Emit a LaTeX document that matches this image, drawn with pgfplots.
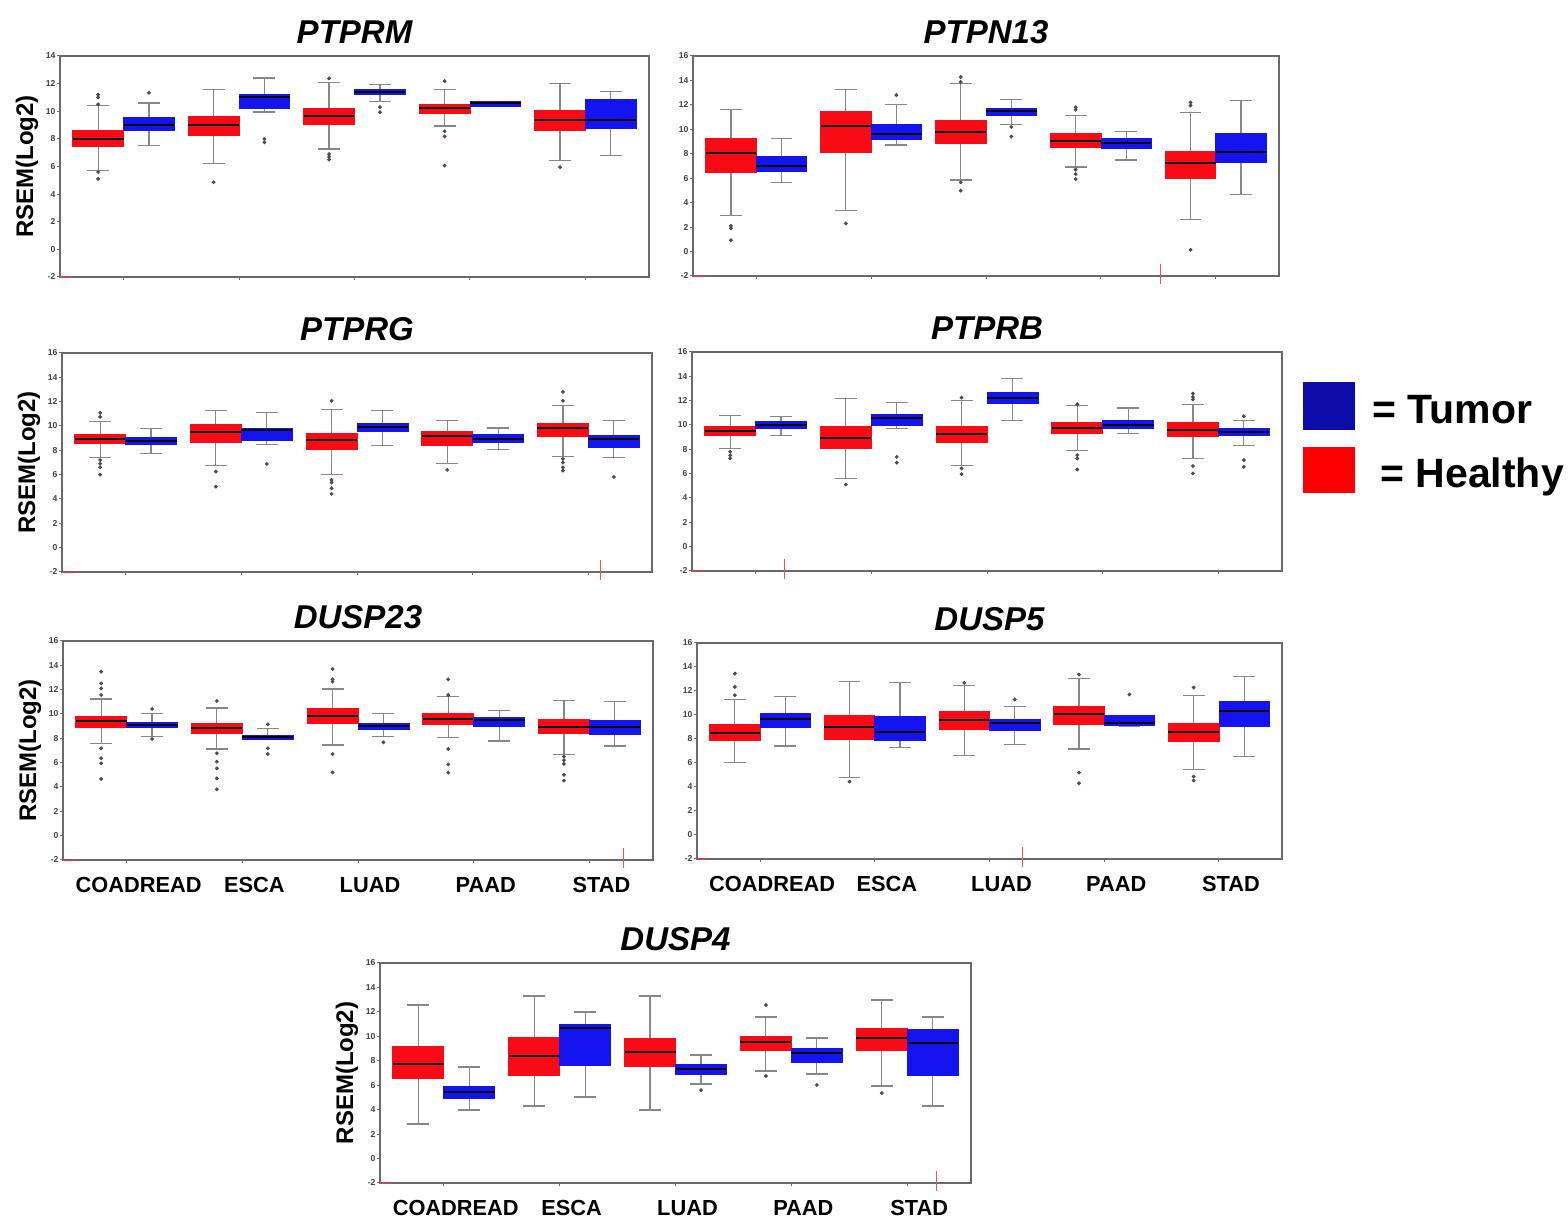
\documentclass[border=0pt]{standalone}
\usepackage{fontspec}
\setmainfont{Liberation Sans}
\usepackage{pgfplots}
\pgfplotsset{compat=1.18}
\usepgfplotslibrary{statistics}
\definecolor{hred}{RGB}{250,10,20}
\definecolor{tblue}{RGB}{20,20,240}
\definecolor{tedge}{RGB}{10,10,200}
\definecolor{lblue}{RGB}{12,12,168}
\definecolor{axgray}{RGB}{105,105,105}
\definecolor{wgray}{RGB}{135,135,135}
\pgfplotsset{
 panel/.style={scale only axis, anchor=south west, xmin=-0.55, xmax=4.55, ymin=-2, ymax=16,
  ytick={-2,0,...,16}, xtick={0,1,2,3,4}, xticklabels={}, tick pos=left, tick align=outside,
  major tick length=1.5pt, axis line style={draw=axgray,line width=1pt},
  every tick/.style={draw=axgray,line width=0.5pt},
  /pgf/number format/assume math mode=true,
  yticklabel style={font=\bfseries\fontsize{4.3}{5}\selectfont, text=black!75, inner sep=0.6pt},
  every axis title/.style={at={(0.5,1)}, anchor=base, yshift=6pt, font=\bfseries\itshape\fontsize{16.5}{18}\selectfont},
  boxplot/draw direction=y,
  clip=false},
 ylab/.style={ylabel={RSEM(Log2)}, every axis y label/.style={at={(axis description cs:-0.056,0.5)}, rotate=90, anchor=center, font=\bfseries\fontsize{12}{14}\selectfont}},
 xlab/.style={xticklabels={COADREAD,ESCA,LUAD,PAAD,STAD}, xticklabel style={font=\bfseries\fontsize{10.9}{12}\selectfont, anchor=north, inner sep=0pt, yshift=-7pt, xshift=6pt}},
}
% #1 position, #2 colour, #3 lower whisker, #4 lower quartile, #5 median, #6 upper quartile, #7 upper whisker, #8 outliers
\newcommand\bx[8]{\addplot[draw=wgray, mark=*, mark size=0.75pt, mark options={draw=black!70,fill=black!70},
  boxplot prepared={draw direction=y, draw position=#1, lower whisker=#3, lower quartile=#4, median=#5, upper quartile=#6, upper whisker=#7,
  box extend=0.44, whisker extend=0.19,
  every box/.style={draw=#2,fill=#2,line width=0.4pt},
  every median/.style={draw=black,line width=1pt},
  every whisker/.style={draw=wgray,line width=0.6pt}}] coordinates {#8};}
% small red marks of the original figure
\newcommand\corner{\draw[red!80, line width=0.4pt] (axis description cs:0,0) -- (axis description cs:0.02,0);}
\newcommand\redmark[1]{\draw[red!70, line width=0.4pt] (axis description cs:#1,-0.035) -- (axis description cs:#1,0.055);}
\begin{document}
\begin{tikzpicture}
\path[use as bounding box] (0pt,0pt) rectangle (784pt,609.5pt);
% PTPRM
\begin{axis}[panel, at={(30pt,471pt)}, width=294.5pt, height=110.5pt, ymax=14, ytick={-2,0,...,14}, title={PTPRM}, ylab]
\bx{-0.22}{hred}{5.71}{7.45}{8.01}{8.62}{10.41}{(0,11.2)(0,11.0)(0,10.5)(0,5.6)(0,5.1)}
\bx{0.22}{tblue}{7.5}{8.59}{9.03}{9.52}{10.6}{(0,11.33)}
\bx{0.78}{hred}{6.22}{8.25}{8.98}{9.66}{11.55}{(0,4.86)}
\bx{1.22}{tblue}{9.95}{10.17}{11.02}{11.21}{12.4}{(0,8.0)(0,7.75)}
\bx{1.78}{hred}{7.26}{9.03}{9.66}{10.19}{12.06}{(0,12.38)(0,6.9)(0,6.7)(0,6.5)}
\bx{2.22}{tblue}{10.68}{11.19}{11.41}{11.58}{11.94}{(0,10.3)(0,9.93)}
\bx{2.78}{hred}{8.93}{9.83}{10.22}{10.53}{11.58}{(0,12.18)(0,8.55)(0,8.18)(0,6.07)}
\bx{3.22}{tblue}{10.33}{10.36}{10.56}{10.70}{10.72}{}
\bx{3.78}{hred}{6.41}{8.64}{9.35}{10.07}{11.99}{(0,5.95)}
\bx{4.22}{tblue}{6.82}{8.76}{9.39}{10.87}{11.43}{}
\corner
\end{axis}
% PTPN13
\begin{axis}[panel, at={(346.5pt,471.5pt)}, width=293pt, height=110pt, title={PTPN13}]
\bx{-0.22}{hred}{2.98}{6.48}{8.1}{9.22}{11.65}{(0,2.1)(0,1.9)(0,0.93)}
\bx{0.22}{tblue}{5.66}{6.56}{7.03}{7.82}{9.22}{}
\bx{0.78}{hred}{3.36}{8.1}{10.28}{11.43}{13.26}{(0,2.3)}
\bx{1.22}{tblue}{8.72}{9.19}{9.63}{10.39}{12.06}{(0,12.8)}
\bx{1.78}{hred}{5.85}{8.81}{9.79}{10.72}{13.73}{(0,14.28)(0,13.87)(0,5.66)(0,4.98)}
\bx{2.22}{tblue}{10.37}{11.13}{11.46}{11.73}{12.44}{(0,10.2)(0,9.41)}
\bx{2.78}{hred}{6.92}{8.53}{9.08}{9.65}{11.16}{(0,11.8)(0,11.6)(0,6.7)(0,6.34)(0,5.93)}
\bx{3.22}{tblue}{7.49}{8.4}{8.86}{9.27}{9.82}{}
\bx{3.78}{hred}{2.6}{6.02}{7.22}{8.23}{11.35}{(0,12.2)(0,11.95)(0,0.14)}
\bx{4.22}{tblue}{4.65}{7.3}{8.12}{9.68}{12.39}{}
\corner\redmark{0.797}
\end{axis}
% PTPRG
\begin{axis}[panel, at={(31pt,323.5pt)}, width=295pt, height=109.5pt, title={PTPRG}, ylab]
\bx{-0.22}{hred}{7.42}{8.57}{8.95}{9.31}{10.4}{(0,11.08)(0,10.75)(0,7.2)(0,6.9)(0,6.6)(0,6.0)}
\bx{0.22}{tblue}{7.75}{8.52}{8.79}{9.03}{9.77}{}
\bx{0.78}{hred}{6.77}{8.68}{9.47}{10.1}{11.25}{(0,6.25)(0,5.02)}
\bx{1.22}{tblue}{8.46}{8.84}{9.66}{9.8}{11.11}{(0,6.88)}
\bx{1.78}{hred}{5.98}{8.08}{8.84}{9.39}{11.36}{(0,12.07)(0,5.57)(0,5.35)(0,4.88)(0,4.42)}
\bx{2.22}{tblue}{8.41}{9.53}{9.88}{10.21}{11.25}{}
\bx{2.78}{hred}{6.93}{8.43}{9.14}{9.58}{10.48}{(0,6.39)}
\bx{3.22}{tblue}{8.05}{8.65}{8.95}{9.28}{9.83}{}
\bx{3.78}{hred}{7.48}{9.17}{9.8}{10.21}{11.66}{(0,12.8)(0,12.07)(0,7.3)(0,7.0)(0,6.6)(0,6.33)}
\bx{4.22}{tblue}{7.4}{8.27}{8.93}{9.23}{10.45}{(0,5.81)}
\corner\redmark{0.912}
\end{axis}
% PTPRB
\begin{axis}[panel, at={(346pt,324pt)}, width=295pt, height=109.5pt, title={PTPRB}]
\bx{-0.22}{hred}{8.04}{9.16}{9.54}{9.9}{10.8}{(0,7.8)(0,7.5)(0,7.25)}
\bx{0.22}{tblue}{9.11}{9.74}{10.01}{10.28}{10.69}{}
\bx{0.78}{hred}{5.58}{8.04}{8.97}{9.85}{12.17}{(0,5.11)}
\bx{1.22}{tblue}{9.74}{9.96}{10.58}{10.83}{11.84}{(0,7.38)(0,6.9)}
\bx{1.78}{hred}{6.65}{8.56}{9.24}{9.9}{11.98}{(0,12.25)(0,6.43)(0,5.96)}
\bx{2.22}{tblue}{10.34}{11.76}{12.25}{12.66}{13.81}{}
\bx{2.78}{hred}{7.93}{9.27}{9.74}{10.2}{11.62}{(0,11.7)(0,7.52)(0,7.25)(0,6.34)}
\bx{3.22}{tblue}{9.3}{9.71}{10.01}{10.39}{11.4}{}
\bx{3.78}{hred}{7.27}{9.05}{9.57}{10.2}{11.7}{(0,12.58)(0,12.3)(0,12.1)(0,6.62)(0,6.02)}
\bx{4.22}{tblue}{8.34}{9.11}{9.44}{9.71}{10.34}{(0,10.72)(0,7.11)(0,6.56)}
\corner\redmark{0.156}
\end{axis}
% DUSP23
\begin{axis}[panel, at={(31.5pt,179.5pt)}, width=295pt, height=109.5pt, title={DUSP23}, ylab, xlab]
\bx{-0.22}{hred}{7.59}{8.93}{9.45}{9.84}{11.23}{(0,13.48)(0,12.52)(0,12.1)(0,11.56)(0,7.18)(0,6.36)(0,5.95)(0,4.66)}
\bx{0.22}{tblue}{8.14}{8.93}{9.12}{9.32}{10.05}{(0,10.41)(0,7.95)}
\bx{0.78}{hred}{7.12}{8.41}{8.82}{9.23}{10.49}{(0,11.07)(0,6.77)(0,6.08)(0,5.53)(0,4.71)(0,3.81)}
\bx{1.22}{tblue}{7.95}{7.95}{8.08}{8.27}{8.79}{(0,9.15)(0,7.18)(0,6.71)}
\bx{1.78}{hred}{7.45}{9.21}{9.86}{10.44}{12.05}{(0,13.7)(0,12.85)(0,12.66)(0,6.71)(0,5.2)}
\bx{2.22}{tblue}{8.14}{8.74}{8.99}{9.26}{10.05}{(0,7.67)}
\bx{2.78}{hred}{8.05}{9.12}{9.56}{10.03}{11.42}{(0,12.85)(0,11.56)(0,7.12)(0,5.86)(0,5.18)}
\bx{3.22}{tblue}{7.78}{8.96}{9.51}{9.75}{10.27}{}
\bx{3.78}{hred}{6.68}{8.41}{8.96}{9.56}{11.1}{(0,6.5)(0,6.2)(0,5.9)(0,5.0)(0,4.52)}
\bx{4.22}{tblue}{7.37}{8.33}{8.93}{9.51}{11.01}{}
\corner\redmark{0.949}
\end{axis}
% DUSP5
\begin{axis}[panel, at={(348.5pt,180pt)}, width=292.5pt, height=108pt, title={DUSP5}, xlab]
\bx{-0.22}{hred}{6.06}{7.86}{8.47}{9.19}{11.29}{(0,13.45)(0,12.34)(0,11.65)}
\bx{0.22}{tblue}{7.42}{8.97}{9.63}{10.1}{11.57}{}
\bx{0.78}{hred}{4.81}{8.0}{9.02}{9.94}{12.76}{(0,4.45)}
\bx{1.22}{tblue}{7.3}{7.91}{8.55}{9.91}{12.68}{}
\bx{1.78}{hred}{6.61}{8.83}{9.58}{10.27}{12.48}{(0,12.68)}
\bx{2.22}{tblue}{7.55}{8.74}{9.3}{9.66}{10.68}{(0,11.29)}
\bx{2.78}{hred}{7.17}{9.24}{10.07}{10.74}{13.04}{(0,13.37)(0,5.2)(0,4.31)}
\bx{3.22}{tblue}{9.02}{9.1}{9.33}{9.94}{9.94}{(0,11.71)}
\bx{3.78}{hred}{5.48}{7.78}{8.55}{9.27}{11.62}{(0,12.29)(0,4.87)(0,4.54)}
\bx{4.22}{tblue}{6.56}{9.02}{10.32}{11.13}{13.2}{}
\corner\redmark{0.556}
\end{axis}
% DUSP4
\begin{axis}[panel, at={(190pt,18pt)}, width=295.5pt, height=110pt, title={DUSP4}, ylab, xlab]
\bx{-0.22}{hred}{2.82}{6.59}{7.73}{9.21}{12.56}{}
\bx{0.22}{tblue}{3.97}{4.95}{5.44}{5.93}{7.49}{}
\bx{0.78}{hred}{4.3}{6.83}{8.39}{9.94}{13.3}{}
\bx{1.22}{tblue}{5.03}{7.65}{10.68}{11.0}{11.99}{}
\bx{1.78}{hred}{3.97}{7.57}{8.72}{9.86}{13.3}{}
\bx{2.22}{tblue}{6.1}{6.92}{7.33}{7.73}{8.47}{(0,5.6)}
\bx{2.78}{hred}{7.16}{8.88}{9.54}{10.03}{11.58}{(0,12.56)(0,6.75)}
\bx{3.22}{tblue}{6.92}{7.9}{8.63}{9.04}{9.86}{(0,6.02)}
\bx{3.78}{hred}{5.94}{8.88}{9.86}{10.68}{12.97}{(0,5.36)}
\bx{4.22}{tblue}{4.3}{6.83}{9.45}{10.6}{11.58}{}
\corner\redmark{0.942}
\end{axis}
% legend
\fill[lblue] (651.5pt,394.5pt) rectangle (677.5pt,418.5pt);
\fill[red] (651.5pt,363pt) rectangle (677.5pt,386pt);
\node[anchor=base west, inner sep=0pt, font=\bfseries\fontsize{20.5}{22}\selectfont] at (686pt,397.5pt) {= Tumor};
\node[anchor=base west, inner sep=0pt, font=\bfseries\fontsize{20.5}{22}\selectfont] at (690pt,365.5pt) {= Healthy};
\end{tikzpicture}
\end{document}
